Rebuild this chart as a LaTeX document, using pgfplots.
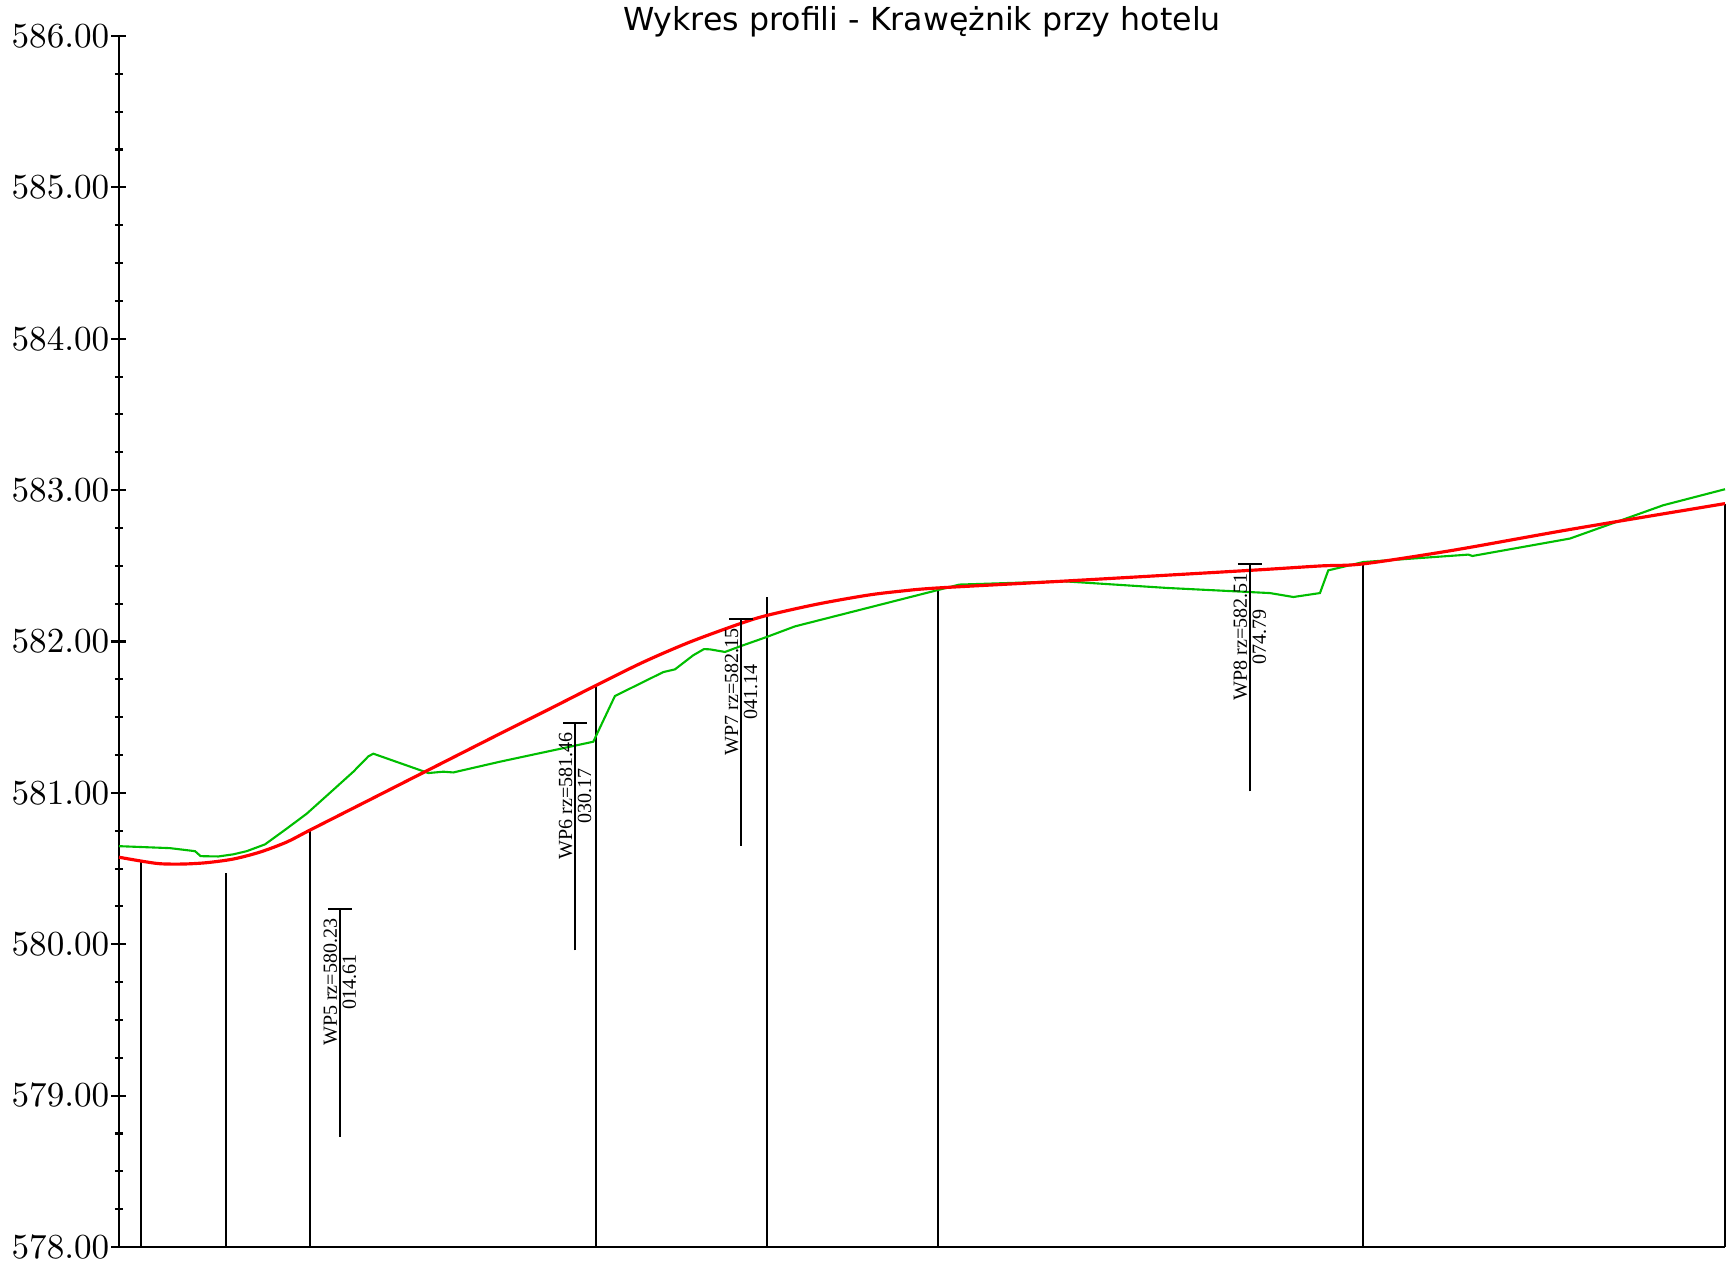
\documentclass[border=0pt]{standalone}
\usepackage{fontspec}
\usepackage{pgfplots}
\pgfplotsset{compat=1.18}
\newfontfamily\titlefont{DejaVu Sans}
\newfontfamily\wpfont{Liberation Serif}
\definecolor{teren}{RGB}{0,190,0}
\definecolor{niweleta}{RGB}{255,0,0}

\begin{document}
\begin{tikzpicture}
\begin{axis}[
    at={(0,0)}, anchor=south west,
    scale only axis,
    width=160.6mm, height=121.1mm,
    xmin=0, xmax=106.22,
    ymin=578, ymax=586,
    axis x line=bottom,
    axis y line=left,
    axis line style={-, line width=0.6pt, black},
    xtick=\empty,
    ytick={578,579,...,586},
    minor y tick num=3,
    tick align=center,
    major tick length=1.5mm,
    minor tick length=0.8mm,
    tick style={line width=0.6pt, black},
    yticklabel style={
        /pgf/number format/fixed,
        /pgf/number format/fixed zerofill,
        /pgf/number format/precision=2,
        /pgf/number format/1000 sep={},
        anchor=east, inner sep=0pt, xshift=-0.15mm,
        font=\fontsize{10.1}{12}\selectfont},
    title={Wykres profili - Krawężnik przy hotelu},
    every axis title/.style={font=\titlefont\fontsize{9}{10}\selectfont,
        at={(0.5,1)}, anchor=base, yshift=0.6mm, inner sep=0pt},
    clip=false,
]

% pionowe linie przekrojow
\addplot[black, line width=0.55pt] coordinates {(1.435,578) (1.435,580.549)};
\addplot[black, line width=0.55pt] coordinates {(7.06,578) (7.06,580.47)};
\addplot[black, line width=0.55pt] coordinates {(12.63,578) (12.63,580.752)};
\addplot[black, line width=0.55pt] coordinates {(31.55,578) (31.55,581.71)};
\addplot[black, line width=0.55pt] coordinates {(42.84,578) (42.84,582.294)};
\addplot[black, line width=0.55pt] coordinates {(54.15,578) (54.15,582.35)};
\addplot[black, line width=0.55pt] coordinates {(82.30,578) (82.30,582.508)};
\addplot[black, line width=0.55pt] coordinates {(106.22,578) (106.22,582.911)};

% teren
\addplot[teren, line width=0.6pt] coordinates {
(0,580.648) (3.37,580.635) (5.03,580.615) (5.40,580.582) (6.57,580.58)
(7.56,580.594) (8.45,580.615) (9.66,580.66) (11.08,580.763) (12.41,580.862)
(14.17,581.02) (15.50,581.14) (16.49,581.241) (16.82,581.259) (20.46,581.131)
(21.45,581.14) (22.11,581.135) (25.20,581.206) (31.37,581.338) (32.80,581.64)
(36.0,581.798) (36.77,581.816) (37.98,581.909) (38.69,581.95) (39.09,581.948)
(40.08,581.931) (41.08,581.968) (42.84,582.03) (44.71,582.10) (55.58,582.376)
(62.45,582.398) (69.29,582.354) (76.12,582.32) (77.67,582.294) (79.43,582.32)
(79.98,582.47) (82.30,582.525) (89.24,582.574) (89.51,582.565) (95.96,582.68)
(102.13,582.90) (106.22,583.006)
};

% niweleta
\addplot[niweleta, line width=0.9pt, smooth] coordinates {
(0,580.575) (1.44,580.55) (2.71,580.532) (4.25,580.530) (5.80,580.539)
(7.56,580.563) (9.33,580.609) (11.09,580.675) (12.59,580.752) (16.38,580.944)
(20.46,581.151) (25.20,581.391) (28.29,581.545) (31.55,581.71) (34.68,581.864)
(37.77,581.997) (41.08,582.118) (42.84,582.172) (46.14,582.246) (49.45,582.305)
(51.65,582.332) (54.19,582.354) (62.67,582.40) (74.80,582.47) (79.43,582.499)
(82.30,582.513) (88.25,582.603) (95.96,582.74) (106.22,582.911)
};

% punkty WP
\addplot[black, line width=0.55pt] coordinates {(14.61,578.73) (14.61,580.23)};
\addplot[black, line width=0.55pt] coordinates {(13.82,580.23) (15.40,580.23)};
\addplot[black, line width=0.55pt] coordinates {(30.17,579.96) (30.17,581.46)};
\addplot[black, line width=0.55pt] coordinates {(29.38,581.46) (30.96,581.46)};
\addplot[black, line width=0.55pt] coordinates {(41.14,580.65) (41.14,582.15)};
\addplot[black, line width=0.55pt] coordinates {(40.35,582.15) (41.93,582.15)};
\addplot[black, line width=0.55pt] coordinates {(74.79,581.01) (74.79,582.51)};
\addplot[black, line width=0.55pt] coordinates {(74.00,582.51) (75.58,582.51)};

\node[rotate=90, anchor=west, align=center, inner sep=0pt,
      font=\wpfont\fontsize{5.7}{5.4}\selectfont] at (axis cs:14.61,579.325) {WP5 rz=580.23\\014.61};
\node[rotate=90, anchor=west, align=center, inner sep=0pt,
      font=\wpfont\fontsize{5.7}{5.4}\selectfont] at (axis cs:30.17,580.555) {WP6 rz=581.46\\030.17};
\node[rotate=90, anchor=west, align=center, inner sep=0pt,
      font=\wpfont\fontsize{5.7}{5.4}\selectfont] at (axis cs:41.14,581.245) {WP7 rz=582.15\\041.14};
\node[rotate=90, anchor=west, align=center, inner sep=0pt,
      font=\wpfont\fontsize{5.7}{5.4}\selectfont] at (axis cs:74.79,581.605) {WP8 rz=582.51\\074.79};

\end{axis}
\pgfresetboundingbox
\useasboundingbox (-11.9mm,-2.5mm) rectangle (161.6mm,124.7mm);
\end{tikzpicture}
\end{document}
